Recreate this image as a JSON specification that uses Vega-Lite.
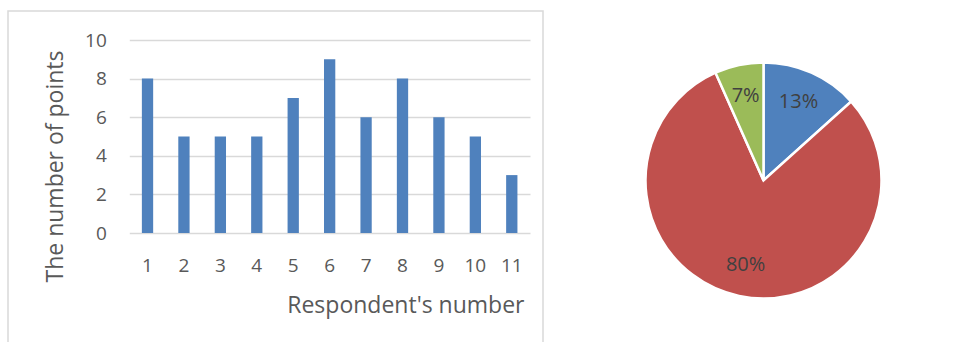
{
  "$schema": "https://vega.github.io/schema/vega-lite/v6.json",
  "padding": {"left": 7, "top": 10, "right": 0, "bottom": 0},
  "spacing": 0,
  "background": "white",
  "config": {
    "view": {"stroke": "#d9d9d9", "strokeWidth": 1.5},
    "font": "Open Sans"
  },
  "hconcat": [
    {
      "width": 535,
      "height": 339,
      "data": {
        "values": [
          {"respondent": 1, "points": 8},
          {"respondent": 2, "points": 5},
          {"respondent": 3, "points": 5},
          {"respondent": 4, "points": 5},
          {"respondent": 5, "points": 7},
          {"respondent": 6, "points": 9},
          {"respondent": 7, "points": 6},
          {"respondent": 8, "points": 8},
          {"respondent": 9, "points": 6},
          {"respondent": 10, "points": 5},
          {"respondent": 11, "points": 3}
        ]
      },
      "mark": {"type": "bar", "color": "#4f81bd"},
      "encoding": {
        "x": {
          "field": "respondent",
          "type": "ordinal",
          "scale": {"range": [121.3, 522], "paddingInner": 0.69, "paddingOuter": 0.345},
          "axis": {
            "title": "Respondent's number",
            "titleAlign": "right",
            "titleX": 516,
            "titleFontSize": 23,
            "titleFontWeight": "normal",
            "titleColor": "#595959",
            "titlePadding": 19,
            "labelFontSize": 19,
            "labelColor": "#595959",
            "labelAngle": 0,
            "labelPadding": 23,
            "ticks": false,
            "domain": false,
            "grid": false,
            "offset": -117
          }
        },
        "y": {
          "field": "points",
          "type": "quantitative",
          "scale": {"domain": [0, 10], "range": [222, 29], "nice": false},
          "axis": {
            "title": "The number of points",
            "values": [0, 2, 4, 6, 8, 10],
            "offset": -121.3,
            "labelPadding": 23,
            "ticks": false,
            "domain": false,
            "grid": true,
            "gridColor": "#d9d9d9",
            "gridWidth": 1.5,
            "labelFontSize": 19,
            "labelColor": "#595959",
            "titleFontSize": 23,
            "titleFontWeight": "normal",
            "titleColor": "#595959",
            "titlePadding": 17,
            "titleY": 155
          }
        }
      }
    },
    {
      "width": 439,
      "height": 339,
      "data": {
        "values": [
          {"group": "A", "share": 2, "label": "13%", "rank": 1},
          {"group": "B", "share": 12, "label": "80%", "rank": 2},
          {"group": "C", "share": 1, "label": "7%", "rank": 3}
        ]
      },
      "encoding": {
        "theta": {"field": "share", "type": "quantitative", "stack": true},
        "order": {"field": "rank", "type": "quantitative"}
      },
      "layer": [
        {
          "mark": {"type": "arc", "outerRadius": 118, "stroke": "white", "strokeWidth": 2.5},
          "encoding": {
            "color": {
              "field": "group",
              "type": "nominal",
              "scale": {"domain": ["A", "B", "C"], "range": ["#4f81bd", "#c0504d", "#9bbb59"]},
              "legend": null
            }
          }
        },
        {
          "mark": {"type": "text", "radius": 86, "fontSize": 20, "color": "#404040"},
          "encoding": {"text": {"field": "label", "type": "nominal"}}
        }
      ]
    }
  ]
}
